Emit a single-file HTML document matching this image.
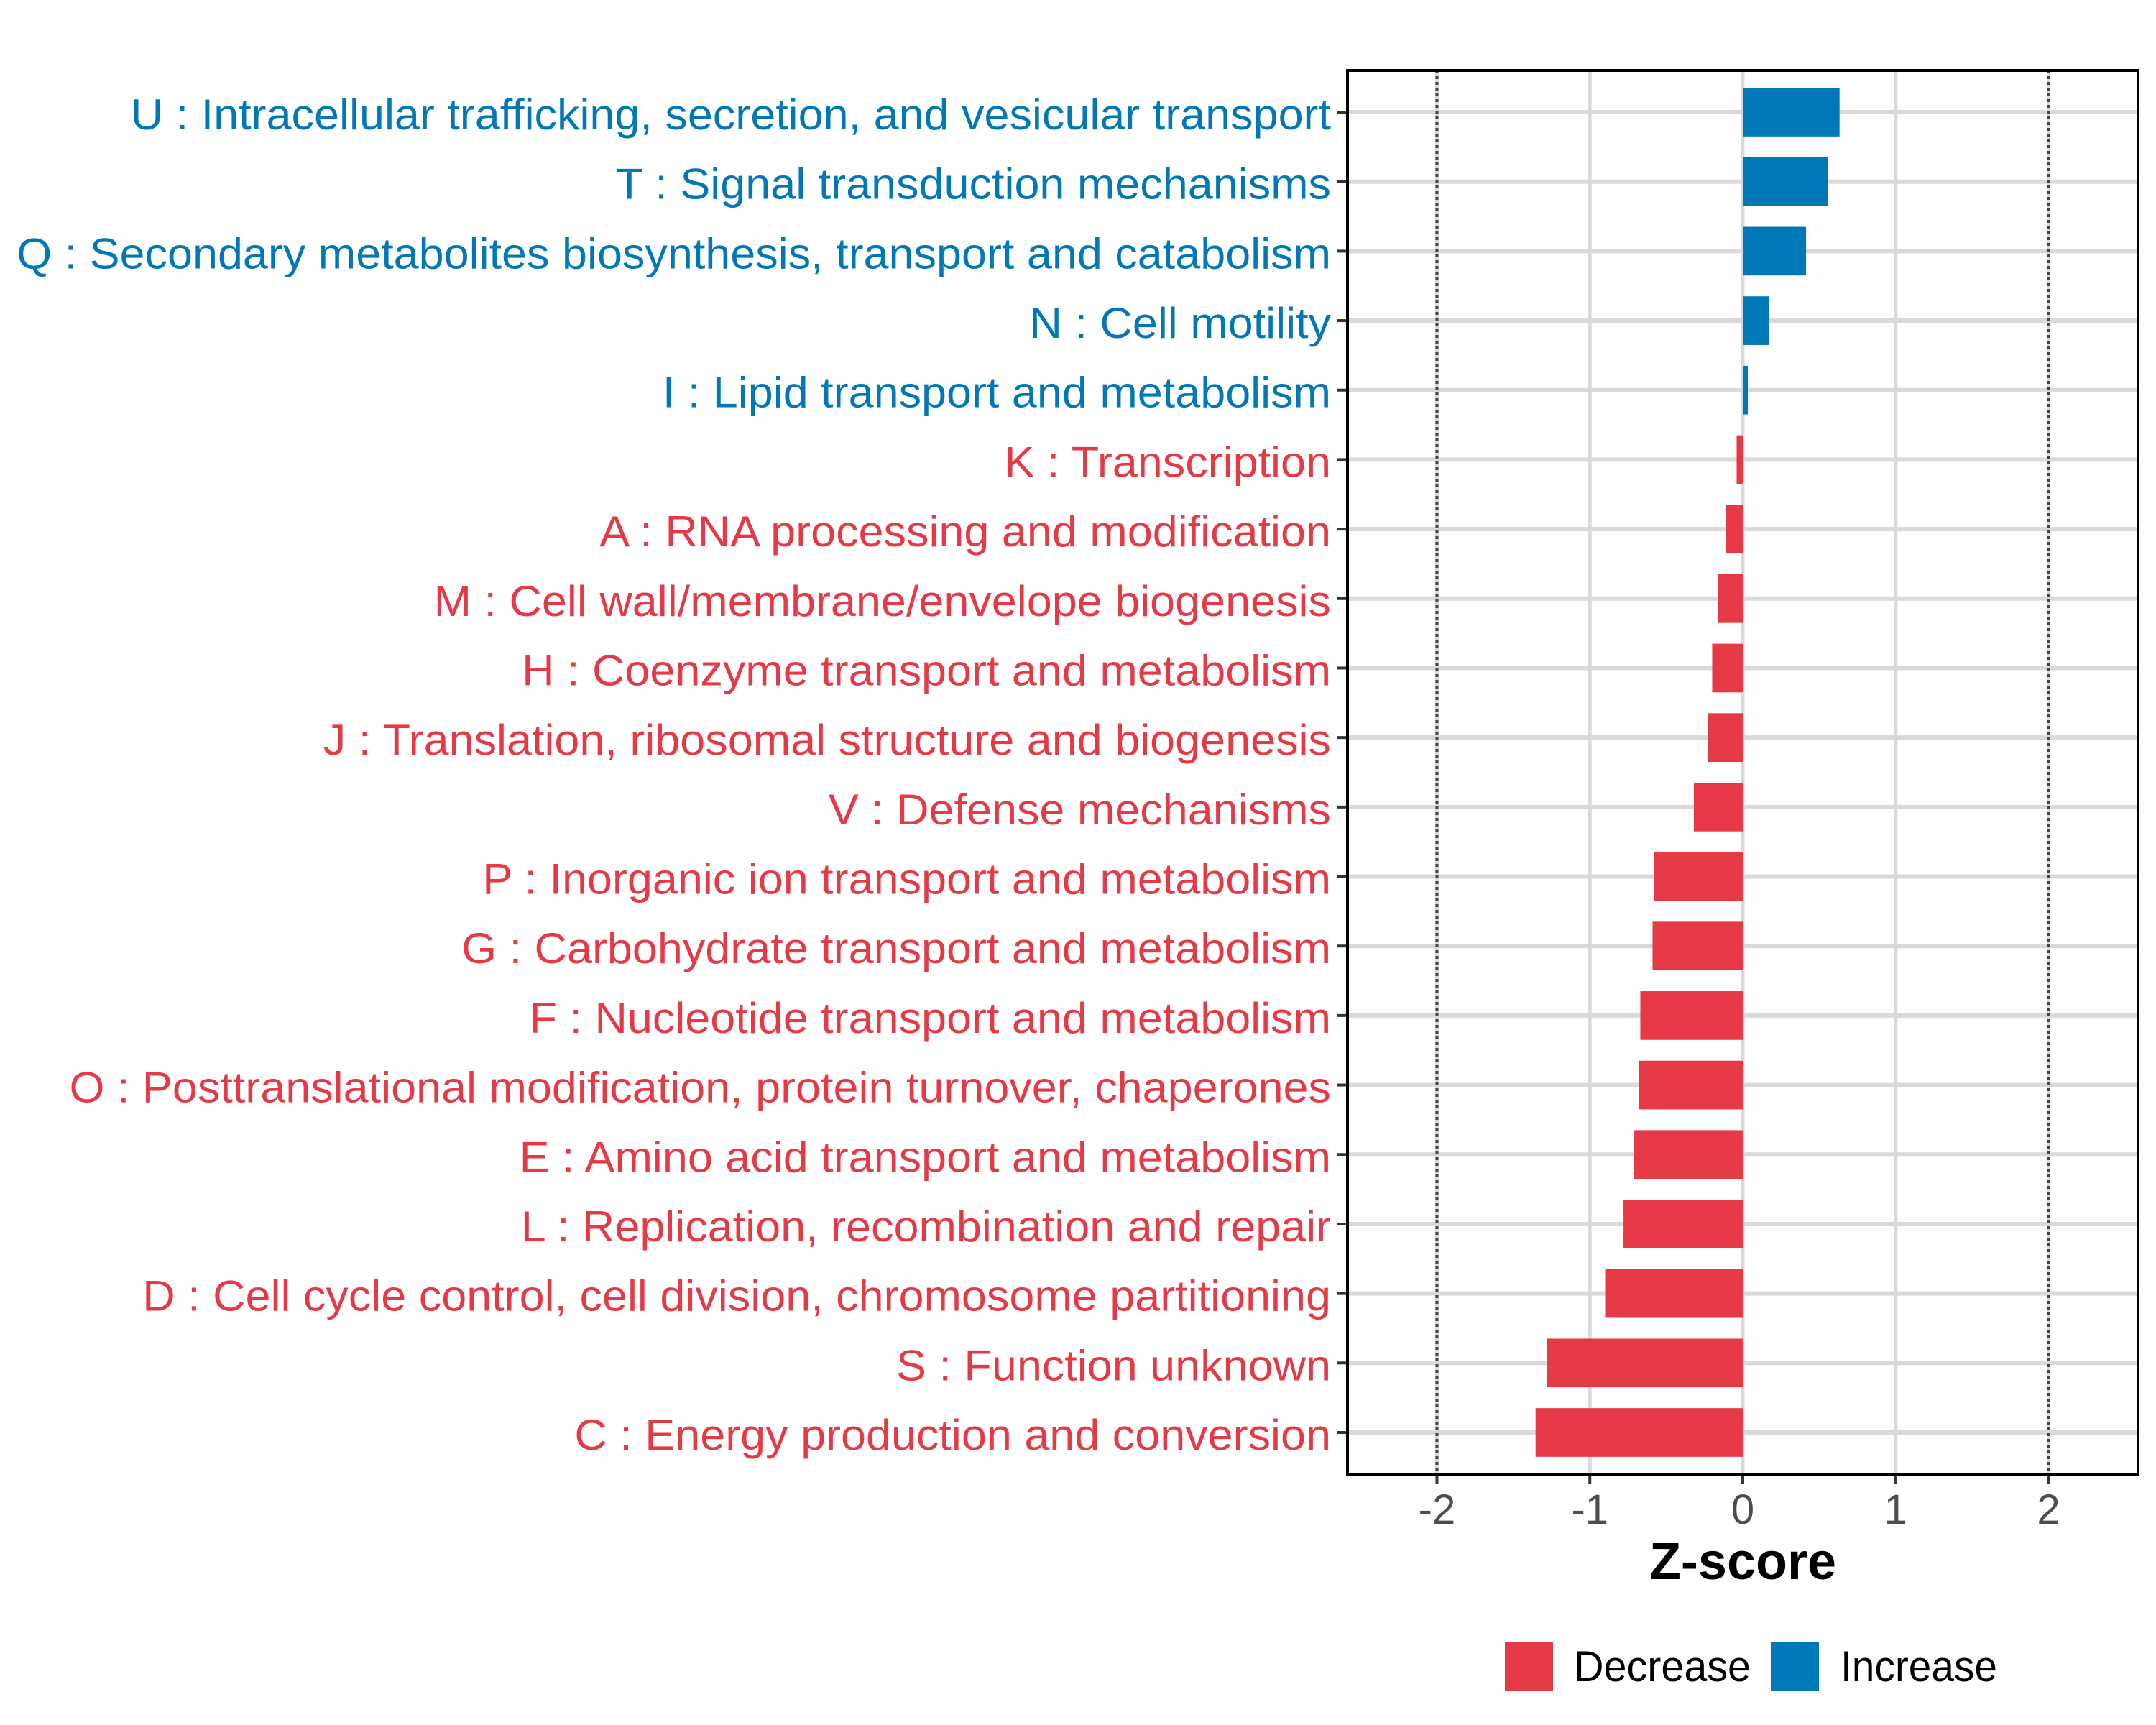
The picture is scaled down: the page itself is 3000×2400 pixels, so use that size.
<!DOCTYPE html>
<html><head><meta charset="utf-8"><style>
html,body{margin:0;padding:0;background:#fff}
svg{display:block}
text{font-family:"Liberation Sans",Arial,sans-serif}
</style></head><body>
<svg id="chart" width="3000" height="2400" viewBox="0 0 3000 2400" xmlns="http://www.w3.org/2000/svg">
<rect width="3000" height="2400" fill="#fff"/>
<g id="grid"></g>
<g id="bars"></g>
<g id="ylabels"></g>
<g id="xaxis"></g>
<rect x="1875" y="98" width="1100" height="1953" fill="none" stroke="#000" stroke-width="4"/>
<text x="2425" y="2197" text-anchor="middle" font-size="72" font-weight="bold" fill="#000">Z-score</text>
<g>
<rect x="2094" y="2285" width="67" height="67" fill="#E63946"/>
<text x="2190" y="2339" font-size="60" fill="#000" textLength="246" lengthAdjust="spacingAndGlyphs">Decrease</text>
<rect x="2464" y="2285" width="67" height="67" fill="#0077B6"/>
<text x="2561" y="2339" font-size="60" fill="#000" textLength="218" lengthAdjust="spacingAndGlyphs">Increase</text>
</g>
</svg>
<script>
const categories = [
"U : Intracellular trafficking, secretion, and vesicular transport",
"T : Signal transduction mechanisms",
"Q : Secondary metabolites biosynthesis, transport and catabolism",
"N : Cell motility",
"I : Lipid transport and metabolism",
"K : Transcription",
"A : RNA processing and modification",
"M : Cell wall/membrane/envelope biogenesis",
"H : Coenzyme transport and metabolism",
"J : Translation, ribosomal structure and biogenesis",
"V : Defense mechanisms",
"P : Inorganic ion transport and metabolism",
"G : Carbohydrate transport and metabolism",
"F : Nucleotide transport and metabolism",
"O : Posttranslational modification, protein turnover, chaperones",
"E : Amino acid transport and metabolism",
"L : Replication, recombination and repair",
"D : Cell cycle control, cell division, chromosome partitioning",
"S : Function unknown",
"C : Energy production and conversion"];
const zscores = [0.633,0.558,0.414,0.173,0.033,-0.04,-0.11,-0.16,-0.2,-0.23,-0.32,-0.58,-0.59,-0.67,-0.68,-0.71,-0.78,-0.9,-1.28,-1.355];
const xTicks = [-2,-1,0,1,2];
const xTickLabels = ["-2","-1","0","1","2"];
const refLines = [-2,2];

const NS="http://www.w3.org/2000/svg";
const PL=1875, PR=2975, PT=98, PB=2051;
const XMIN=-2.585, XMAX=2.585;
function xs(v){return PL+(v-XMIN)/(XMAX-XMIN)*(PR-PL);}
const step=(PB-PT)/(categories.length+0.2);
function ys(i){return PT+step*(0.6+i);}
function mk(tag,attrs,parent){const e=document.createElementNS(NS,tag);for(const k in attrs)e.setAttribute(k,attrs[k]);parent.appendChild(e);return e;}
const grid=document.getElementById('grid'),bars=document.getElementById('bars'),yl=document.getElementById('ylabels'),xa=document.getElementById('xaxis');
const BLUE="#0077B6",RED="#E63946";
xTicks.forEach((t,i)=>{
  const g=mk('line',{x1:xs(t),x2:xs(t),y1:PT,y2:PB,stroke:'#d9d9d9','stroke-width':5},grid);
  
  
  const tk=mk('line',{x1:xs(t),x2:xs(t),y1:PB,y2:PB+14,stroke:'#333','stroke-width':4},xa);
  
  
  const tl=mk('text',{x:xs(t),y:2120,'text-anchor':'middle','font-size':58,fill:'#4d4d4d'},xa);
  tl.textContent=xTickLabels[i];
  
  
});
categories.forEach((c,i)=>{
  const y=ys(i);
  const gl=mk('line',{x1:PL,x2:PR,y1:y,y2:y,stroke:'#d9d9d9','stroke-width':6},grid);
  
  
  const tk=mk('line',{x1:PL-14,x2:PL,y1:y,y2:y,stroke:'#333','stroke-width':4},yl);
  
  
});
refLines.forEach(r=>{
  const l=mk('line',{x1:xs(r),x2:xs(r),y1:PT,y2:PB,stroke:'#444','stroke-width':4,'stroke-dasharray':'4 4'},grid);
  
  
});
const bh=step*0.7;
zscores.forEach((v,i)=>{
  const x0=xs(0),x1=xs(v);
  const b=mk('rect',{x:Math.min(x0,x1),y:ys(i)-bh/2,width:Math.abs(x1-x0),height:bh,fill:v>=0?BLUE:RED},bars);
  
  
});
const labs=[];
categories.forEach((c,i)=>{
  const t=mk('text',{x:0,y:0,'text-anchor':'end','font-size':60,fill:zscores[i]>=0?BLUE:RED},yl);
  t.textContent=c;
  
  
  labs.push(t);
});
let f=1;
try{const w=labs[2].getComputedTextLength();if(w>0)f=1829/w;}catch(e){}
labs.forEach((t,i)=>{t.setAttribute('transform','translate(1852,'+(ys(i)+24)+') scale('+f+',1)');});
</script>
</body></html>
